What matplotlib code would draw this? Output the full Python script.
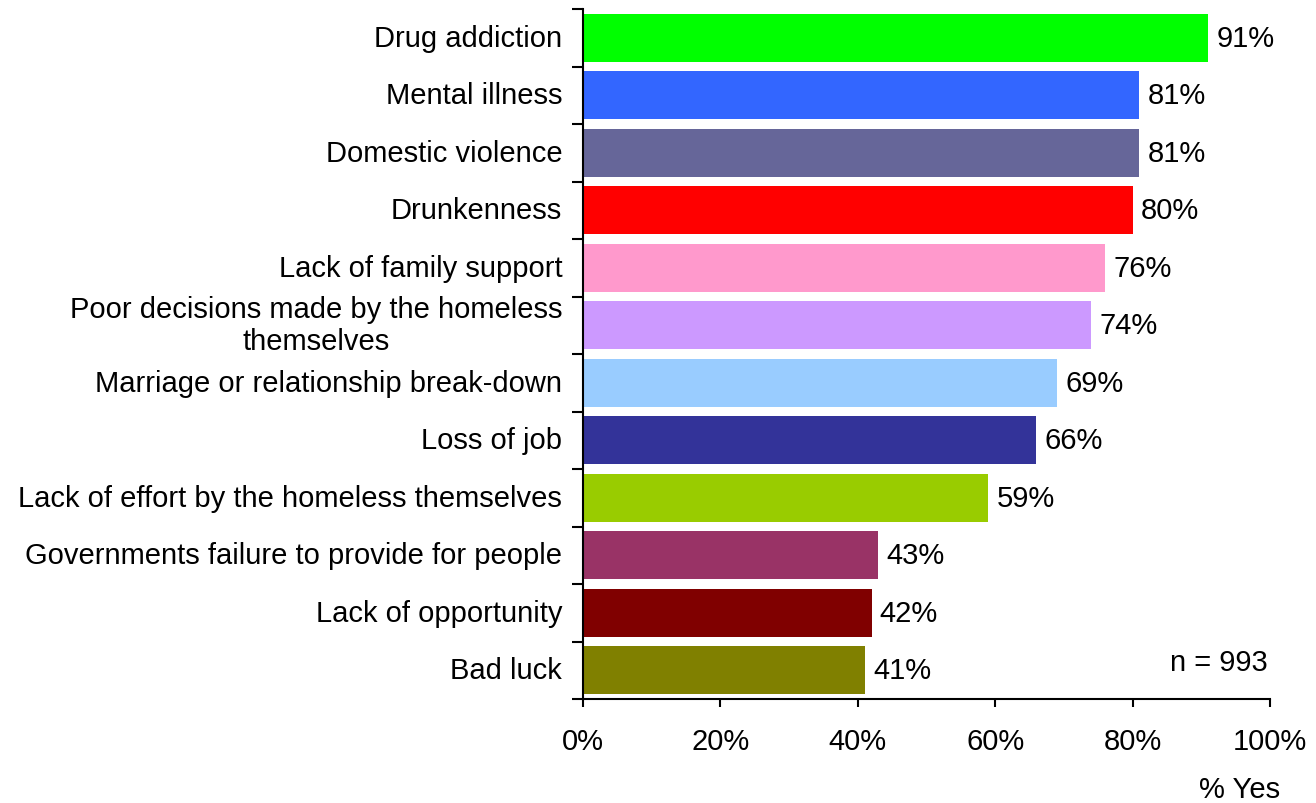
import numpy as np
import matplotlib
matplotlib.use("Agg")
import matplotlib.pyplot as plt
from matplotlib.ticker import FixedLocator

plt.rcParams['font.family'] = ['Liberation Sans', 'DejaVu Sans']

categories = [
    "Drug addiction",
    "Mental illness",
    "Domestic violence",
    "Drunkenness",
    "Lack of family support",
    "Poor decisions made by the homeless\nthemselves",
    "Marriage or relationship break-down",
    "Loss of job",
    "Lack of effort by the homeless themselves",
    "Governments failure to provide for people",
    "Lack of opportunity",
    "Bad luck",
]
values = [91, 81, 81, 80, 76, 74, 69, 66, 59, 43, 42, 41]
colors = ["#00FF00", "#3366FF", "#666699", "#FF0000", "#FF99CC", "#CC99FF",
          "#99CCFF", "#333399", "#99CC00", "#993366", "#800000", "#808000"]
xticks = [0, 20, 40, 60, 80, 100]

FS = 21

fig = plt.figure(figsize=(13.16, 8.04), dpi=100)
ax = fig.add_axes([583 / 1316, 1 - 700 / 804, 687 / 1316, 690 / 804])

n = len(categories)
y = np.arange(n)
ax.barh(y, values, height=0.83, color=colors)
ax.set_ylim(n - 0.5, -0.5)
ax.set_xlim(0, 100)

for yi, v in zip(y, values):
    ax.text(v + 1.2, yi, f"{v}%", va="center", ha="left", fontsize=FS)

ax.set_yticks(y)
ax.set_yticklabels(categories, fontsize=FS, multialignment="center")
for lbl in ax.get_yticklabels():
    lbl.set_va("center")
ax.yaxis.set_minor_locator(FixedLocator(np.arange(n + 1) - 0.5))
ax.tick_params(axis="y", which="major", length=0, pad=15)
ax.tick_params(axis="y", which="minor", length=8, width=1.5, direction="out")

ax.set_xticks(xticks)
ax.set_xticklabels([f"{t}%" for t in xticks], fontsize=FS)
ax.tick_params(axis="x", length=6, width=1.5, direction="out", pad=14)

for side in ("top", "right"):
    ax.spines[side].set_visible(False)
for side in ("left", "bottom"):
    ax.spines[side].set_linewidth(1.5)

ax.text(0.997, 0.054, "n = 993", transform=ax.transAxes, ha="right",
        va="center", fontsize=FS)
fig.text(1280 / 1316, 1 - 790 / 804, "% Yes", ha="right", va="center",
         fontsize=FS)

fig.savefig("out.png", dpi=100)
